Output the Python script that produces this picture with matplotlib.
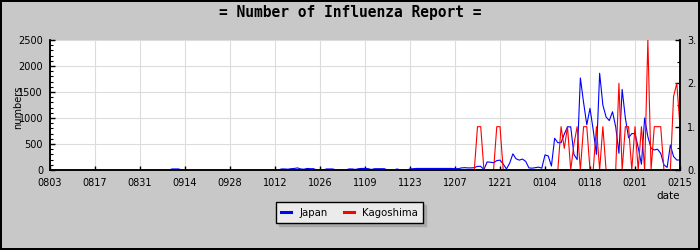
import matplotlib
matplotlib.use("Agg")
import matplotlib.pyplot as plt
from matplotlib.lines import Line2D
from matplotlib.ticker import MultipleLocator
import pandas as pd

start_date = "2009-08-03"
tick_labels = ["0803", "0817", "0831", "0914", "0928", "1012", "1026", "1109",
               "1123", "1207", "1221", "0104", "0118", "0201", "0215"]
series_names = ["Japan", "Kagoshima"]
left_ticks = [0, 500, 1000, 1500, 2000, 2500]
right_ticks = [0, 1, 2, 3]
right_labels = ["0.", "1.", "2.", "3."]

# daily values, one row per 14-day tick interval
japan = [
    0, 0, 0, 0, 0, 0, 0, 0, 0, 0, 0, 0, 0, 0,
    0, 0, 0, 0, 0, 0, 0, 0, 0, 0, 0, 0, 0, 0,
    0, 0, 0, 0, 0, 0, 0, 0, 0, 0, 20, 20, 20, 0,
    0, 0, 0, 0, 0, 0, 0, 0, 0, 0, 0, 0, 0, 0,
    0, 0, 0, 0, 0, 0, 0, 0, 0, 0, 0, 0, 0, 0,
    0, 0, 20, 20, 15, 25, 30, 40, 20, 15, 30, 25, 25, 0,
    0, 0, 20, 20, 20, 0, 0, 0, 0, 20, 20, 10, 25, 30,
    30, 25, 10, 25, 25, 25, 25, 0, 0, 0, 20, 0, 0, 0,
    20, 25, 30, 30, 30, 30, 30, 30, 30, 30, 30, 30, 30, 30,
    25, 25, 40, 45, 40, 40, 45, 70, 70, 10, 155, 150, 140, 180,
    190, 115, 20, 130, 310, 215, 190, 210, 165, 40, 35, 45, 55, 35,
    290, 270, 77, 610, 525, 525, 690, 830, 830, 300, 200, 1770, 1300, 870,
    1185, 770, 300, 1860, 1250, 1020, 950, 1120, 830, 320, 1550, 1000, 620, 700,
    700, 430, 110, 1000, 640, 420, 385, 400, 320, 100, 50, 480, 260, 192,
    192,
]

kagoshima = [
    0, 0, 0, 0, 0, 0, 0, 0, 0, 0, 0, 0, 0, 0,
    0, 0, 0, 0, 0, 0, 0, 0, 0, 0, 0, 0, 0, 0,
    0, 0, 0, 0, 0, 0, 0, 0, 0, 0, 0, 0, 0, 0,
    0, 0, 0, 0, 0, 0, 0, 0, 0, 0, 0, 0, 0, 0,
    0, 0, 0, 0, 0, 0, 0, 0, 0, 0, 0, 0, 0, 0,
    0, 0, 0, 0, 0, 0, 0, 0, 0, 0, 0, 0, 0, 0,
    0, 0, 0, 0, 0, 0, 0, 0, 0, 0, 0, 0, 0, 0,
    0, 0, 0, 0, 0, 0, 0, 0, 0, 0, 0, 0, 0, 0,
    0, 0, 0, 0, 0, 0, 0, 0, 0, 0, 0, 0, 0, 0,
    0, 0, 0, 0, 0, 0, 0, 1, 1, 0, 0, 0, 0, 1,
    1, 0, 0, 0, 0, 0, 0, 0, 0, 0, 0, 0, 0, 0,
    0, 0, 0, 0, 0, 1, 0.5, 1, 0, 0.6, 1, 0, 1, 1,
    0, 0, 1, 0, 1, 0, 0, 0, 0, 2, 0, 1, 1, 0,
    1, 0, 1, 0, 3, 0, 1, 1, 1, 0, 0, 0, 1.7, 2,
    1,
]

dates = pd.date_range(start_date, periods=len(japan), freq="D")
tick_dates = dates[::14]

BG = "#c8c8c8"
W, H = 700, 250

fig = plt.figure(figsize=(7, 2.5), dpi=100)
fig.patch.set_facecolor(BG)
fig.patch.set_edgecolor("black")
fig.patch.set_linewidth(1.5)

ax = fig.add_axes([50 / W, 80 / H, 630 / W, 130 / H])
ax.set_facecolor("white")
ax.plot(dates, japan, color="#0000ff", lw=0.8, zorder=2)
ax.set_xlim(dates[0], dates[-1])
ax.set_ylim(0, 2500)
ax.set_yticks(left_ticks)
ax.set_yticklabels([str(v) for v in left_ticks])
ax.yaxis.set_minor_locator(MultipleLocator(100))
ax.set_xticks(tick_dates)
ax.set_xticklabels(tick_labels)
ax.grid(True, which="major", color="#dcdcdc", lw=0.8)
ax.set_axisbelow(True)
ax.tick_params(which="both", direction="in", labelsize=7, colors="black")
ax.tick_params(axis="x", which="major", length=3, width=1, pad=6)
ax.tick_params(axis="x", which="minor", length=0)
ax.tick_params(axis="y", which="major", length=3.5, width=1, pad=5)
ax.tick_params(axis="y", which="minor", length=2.2, width=0.8)
for s in ("left", "bottom", "right"):
    ax.spines[s].set_color("black")
    ax.spines[s].set_linewidth(1.1)
ax.spines["top"].set_visible(False)

ax2 = ax.twinx()
ax2.plot(dates, kagoshima, color="#ff0000", lw=0.8, zorder=2)
ax2.set_ylim(0, 3)
ax2.set_yticks(right_ticks)
ax2.set_yticklabels(right_labels)
ax2.yaxis.set_minor_locator(MultipleLocator(0.5))
ax2.tick_params(which="both", direction="in", labelsize=7, colors="black")
ax2.tick_params(axis="y", which="major", length=3.6, width=1, pad=5)
ax2.tick_params(axis="y", which="minor", length=2, width=0.8)
for s in ("left", "bottom", "right"):
    ax2.spines[s].set_color("black")
    ax2.spines[s].set_linewidth(1.1)
ax2.spines["top"].set_visible(False)

fig.text(0.5, 1 - 12.5 / H, "= Number of Influenza Report =", ha="center",
         va="center", fontsize=10.5, family="DejaVu Sans Mono", fontweight="bold")
fig.text(18 / W, 1 - 107 / H, "numbers", rotation=90, ha="center", va="center",
         fontsize=7)
fig.text(680 / W, 1 - 196 / H, "date", ha="right", va="center", fontsize=7.5)

handles = [Line2D([], [], color="#0000ff", lw=2.2),
           Line2D([], [], color="#ff0000", lw=2.2)]
leg = fig.legend(handles, series_names, loc="center",
                 bbox_to_anchor=(349.5 / W, 1 - 212.5 / H), ncol=2,
                 fontsize=7.3, frameon=True, fancybox=False, framealpha=1,
                 shadow={"color": "#a8a8a8", "alpha": 1, "ox": 2.2, "oy": -2.2},
                 handlelength=1.0, handletextpad=0.8, columnspacing=1.6,
                 borderpad=0.5, borderaxespad=0)
leg.get_frame().set_edgecolor("black")
leg.get_frame().set_facecolor("#ebebeb")
leg.get_frame().set_linewidth(1.0)

fig.savefig("out.png", dpi=100, facecolor=BG, edgecolor="black")
